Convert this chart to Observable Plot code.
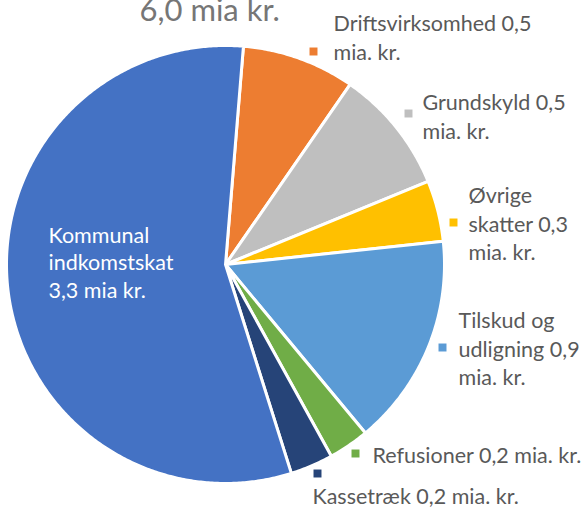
<!DOCTYPE html>
<html>
<head>
<meta charset="utf-8">
<script src="https://cdn.jsdelivr.net/npm/d3@7"></script>
<script src="https://cdn.jsdelivr.net/npm/@observablehq/plot@0.6"></script>
<style>
  html, body { margin: 0; padding: 0; background: #ffffff; }
  #chart svg { display: block; }
</style>
</head>
<body>
<div id="chart"></div>
<script>
// ---- data ----
const title = "6,0 mia kr.";
const categories = ["Driftsvirksomhed", "Grundskyld", "Øvrige skatter", "Tilskud og udligning", "Refusioner", "Kassetræk", "Kommunal indkomstskat"];
const values = [0.50, 0.55, 0.27, 0.94, 0.18, 0.19, 3.37];
const labels = [
  "Driftsvirksomhed 0,5\nmia. kr.",
  "Grundskyld 0,5\nmia. kr.",
  "Øvrige\nskatter 0,3\nmia. kr.",
  "Tilskud og\nudligning 0,9\nmia. kr.",
  "Refusioner 0,2 mia. kr.",
  "Kassetræk 0,2 mia. kr.",
  "Kommunal\nindkomstskat\n3,3 mia kr."
];
const colors = ["#ED7D31", "#BFBFBF", "#FFC000", "#5B9BD5", "#70AD47", "#264478", "#4472C4"];

// ---- layout (pixels) ----
const W = 587, H = 509;
const cx = 225, cy = 264, R = 219;
const startDeg = 4.7;
// text block anchor (left x, middle y) and legend-key square position
const labelPos = [[333, 36], [422, 115], [468, 222], [458, 347], [372, 453], [312, 494], [48, 261]];
const keyPos = [[313, 51], [408, 113], [453, 222], [442, 347], [355, 453], [317, 473], null];

const data = categories.map((c, i) => ({category: c, value: values[i], label: labels[i]}));
const start = startDeg * Math.PI / 180;
const arcs = d3.pie().sort(null).value(d => d.value).startAngle(start).endAngle(start + 2 * Math.PI)(data);

const slicePts = [];
arcs.forEach(a => {
  const n = Math.max(2, Math.ceil((a.endAngle - a.startAngle) * 180 / Math.PI * 2));
  slicePts.push({category: a.data.category, x: cx, y: cy});
  for (let i = 0; i <= n; i++) {
    const t = a.startAngle + (a.endAngle - a.startAngle) * i / n;
    slicePts.push({category: a.data.category, x: cx + R * Math.sin(t), y: cy - R * Math.cos(t)});
  }
});

const textData = data.map((d, i) => ({label: d.label, x: labelPos[i][0], y: labelPos[i][1], inside: i === 6}));
const keyData = data.map((d, i) => keyPos[i] ? {category: d.category, x: keyPos[i][0], y: keyPos[i][1]} : null).filter(Boolean);

const chart = Plot.plot({
  width: W,
  height: H,
  margin: 0,
  x: {domain: [0, W], range: [0, W], axis: null},
  y: {domain: [0, H], range: [0, H], axis: null},
  color: {domain: categories, range: colors},
  style: {fontFamily: "Lato, 'Open Sans', sans-serif", background: "#ffffff"},
  marks: [
    Plot.line(slicePts, {x: "x", y: "y", z: "category", fill: "category", stroke: "#ffffff", strokeWidth: 3, strokeLinejoin: "round", curve: "linear-closed"}),
    Plot.dot(keyData, {x: "x", y: "y", fill: "category", symbol: "square", r: 4.5, stroke: null}),
    Plot.text(textData.filter(d => !d.inside), {x: "x", y: "y", text: "label", textAnchor: "start", lineAnchor: "middle", lineHeight: 1.33, fontSize: 21.5, fill: "#595959"}),
    Plot.text(textData.filter(d => d.inside), {x: "x", y: "y", text: "label", textAnchor: "start", lineAnchor: "middle", lineHeight: 1.3, fontSize: 21.5, fill: "#ffffff"}),
    Plot.text([title], {x: () => 139, y: () => 20, text: d => d, textAnchor: "start", lineAnchor: "bottom", fontSize: 31, fill: "#767676"})
  ]
});
document.getElementById("chart").appendChild(chart);
</script>
</body>
</html>
